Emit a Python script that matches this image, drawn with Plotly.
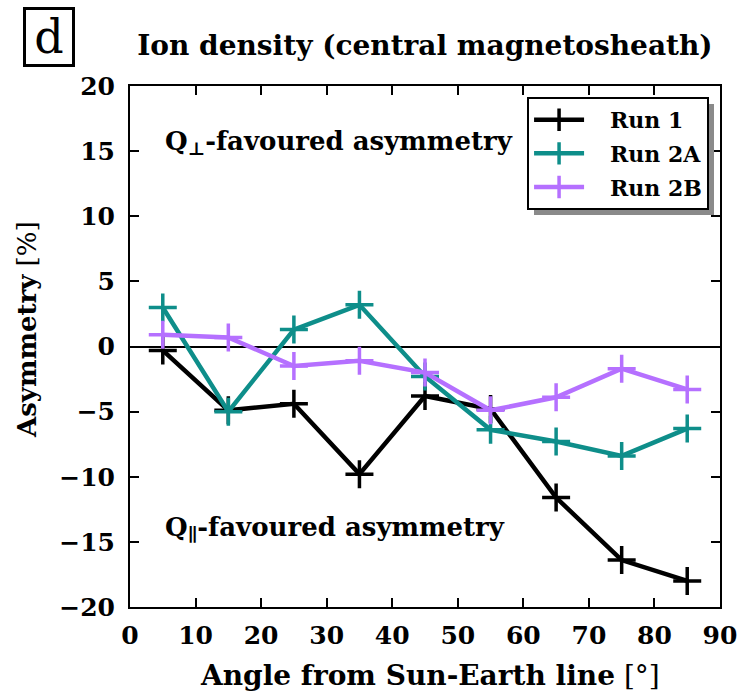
import plotly.graph_objects as go

angles = [5, 15, 25, 35, 45, 55, 65, 75, 85]
run1 = [-0.3, -4.9, -4.4, -9.8, -3.8, -4.8, -11.6, -16.4, -18.0]
run2a = [3.0, -5.0, 1.3, 3.2, -2.3, -6.4, -7.3, -8.4, -6.3]
run2b = [0.9, 0.7, -1.5, -1.1, -2.0, -4.9, -3.9, -1.7, -3.3]
names = ["Run 1", "Run 2A", "Run 2B"]
colors = ["#000000", "#0E8E8A", "#B570FF"]
yticks = list(range(-20, 21, 5))
xticks = list(range(0, 91, 10))

FONT = "DejaVu Serif"
NB = "\u00a0"

fig = go.Figure()
for nm, ys, c in zip(names, [run1, run2a, run2b], colors):
    fig.add_trace(go.Scatter(
        x=angles, y=ys, mode="lines+markers", name=f"{NB*3}<b>{nm}</b>", legendgroup=nm,
        line=dict(color=c, width=4.5),
        marker=dict(symbol="cross-thin", size=20, line=dict(color=c, width=3.5)),
    ))

fig.update_layout(
    width=739, height=691,
    margin=dict(l=130, r=19, t=86, b=84, autoexpand=False),
    plot_bgcolor="white", paper_bgcolor="white",
    font=dict(family=FONT, color="black", size=22),
    showlegend=True,
    legend=dict(x=0.673, y=0.979, xanchor="left", yanchor="top",
                bgcolor="white", bordercolor="black", borderwidth=2,
                font=dict(size=22, family=FONT), itemwidth=50,
                tracegroupgap=2),
    title=dict(text="<b>Ion density (central magnetosheath)</b>", x=0.575, xanchor="center",
               y=0.935, yanchor="middle", font=dict(size=28, family=FONT)),
    xaxis=dict(range=[0, 90], tickvals=xticks, automargin=False,
               ticktext=[f"<b>{v}</b>" for v in xticks],
               ticks="inside", ticklen=9, tickwidth=1.5, tickcolor="black",
               mirror="allticks", showline=True, linecolor="black", linewidth=2,
               showgrid=False, zeroline=False, ticklabelstandoff=5,
               tickfont=dict(size=25, family=FONT)),
    yaxis=dict(range=[-20, 20], tickvals=yticks, automargin=False,
               ticktext=[("<b>\u2212" + str(-v) + "</b>") if v < 0 else f"<b>{v}</b>" for v in yticks],
               ticks="inside", ticklen=9, tickwidth=1.5, tickcolor="black",
               mirror="allticks", showline=True, linecolor="black", linewidth=2,
               showgrid=False, zeroline=True, zerolinecolor="black", zerolinewidth=2,
               ticklabelstandoff=8,
               tickfont=dict(size=25, family=FONT)),
)

# axis titles placed as in the reference
fig.add_annotation(text="<b>Angle from Sun-Earth line</b> [°]", xref="paper", yref="paper",
                   x=(430 - 130) / 590, y=(607 - 675) / 521,
                   xanchor="center", yanchor="middle", showarrow=False,
                   font=dict(size=28, family=FONT))
fig.add_annotation(text="<b>Asymmetry</b> [%]", xref="paper", yref="paper",
                   x=(27 - 130) / 590, y=(607 - 330) / 521, textangle=-90,
                   xanchor="center", yanchor="middle", showarrow=False,
                   font=dict(size=26, family=FONT))

# legend shadow
fig.add_shape(type="rect", xref="paper", yref="paper",
              x0=(534 - 130) / 590, x1=(714 - 130) / 590,
              y0=(607 - 215) / 521, y1=(607 - 104) / 521,
              fillcolor="#8a8a8a", line=dict(width=0), layer="above")

fig.add_annotation(text="<b>Q<sub>\u22a5</sub>-favoured asymmetry</b>", xref="x", yref="y",
                   x=5, y=15.7, xanchor="left", yanchor="middle", showarrow=False,
                   font=dict(size=26, family=FONT))
fig.add_annotation(text="<b>Q<sub>\u2225</sub>-favoured asymmetry</b>", xref="x", yref="y",
                   x=5, y=-14.0, xanchor="left", yanchor="middle", showarrow=False,
                   font=dict(size=26, family=FONT))
fig.add_annotation(text="d", xref="paper", yref="paper",
                   x=(49 - 130) / 590, y=(607 - 37) / 521, xanchor="center", yanchor="middle",
                   showarrow=False, width=44, height=52,
                   font=dict(size=46, family=FONT), bordercolor="black", borderwidth=3,
                   borderpad=1, bgcolor="white")

fig.write_html("out.html")
